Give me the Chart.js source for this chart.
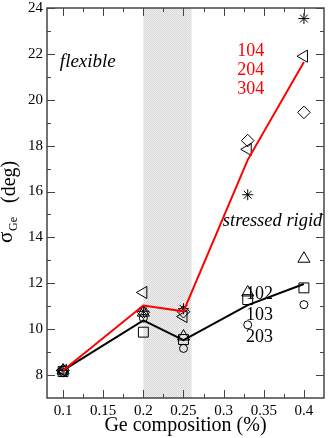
<!DOCTYPE html>
<html>
<head>
<meta charset="utf-8">
<script src="https://cdn.jsdelivr.net/npm/chart.js@4/dist/chart.umd.min.js"></script>
<style>
  html, body { margin: 0; padding: 0; background: #fff; }
  #wrap { width: 332px; height: 438px; position: relative; }
</style>
</head>
<body>
<div id="wrap"><canvas id="c"></canvas></div>
<script>
// Ge composition (x) for every series
const compositions = [0.1, 0.2, 0.25, 0.33, 0.4];

// averaged curves
const avgRed = [8.2, 11.03, 10.78, 17.38, 21.65];
const avgBlack = [8.2, 10.38, 9.52, 11.05, 11.97];

// individual runs (one array per marker)
const starVals = [8.2, 10.78, 10.89, 15.86, 23.54];
const leftTriVals = [8.2, 11.6, 10.55, 17.84, 21.9];
const diamondVals = [8.2, 10.74, 10.76, 18.22, 19.45];
const upTriVals = [8.2, 10.72, 9.68, 11.6, 13.07];
const squareVals = [8.15, 9.87, 9.55, 11.29, 11.8];
const circleVals = [8.1, 10.48, 9.16, 10.19, 11.07];

// axes
const xTicks = [0.1, 0.15, 0.2, 0.25, 0.3, 0.35, 0.4];
const xMinor = [0.125, 0.175, 0.225, 0.275, 0.325, 0.375];
const yTicks = [8, 10, 12, 14, 16, 18, 20, 22, 24];
const yMinor = [9, 11, 13, 15, 17, 19, 21, 23];

// shaded window (intermediate phase)
const bandRange = [0.2, 0.26];

const redLabels = ['104', '204', '304'];
const blackLabels = ['102', '103', '203'];

const SERIF = '"Liberation Serif", "DejaVu Serif", serif';
Chart.defaults.font.family = SERIF;

const pts = vals => vals.map((v, i) => ({ x: compositions[i], y: v }));

function markers(vals, style, radius, rotation) {
    return {
        data: pts(vals),
        showLine: false,
        pointStyle: style,
        pointRadius: radius,
        pointRotation: rotation || 0,
        pointBorderColor: '#000',
        pointBackgroundColor: 'rgba(0,0,0,0)',
        pointBorderWidth: 1
    };
}

// hatched grey band behind the data
const bandPlugin = {
    id: 'band',
    beforeDatasetsDraw(chart) {
        const { ctx, chartArea: a, scales: { x } } = chart;
        const p = document.createElement('canvas');
        p.width = 2; p.height = 2;
        const pc = p.getContext('2d');
        pc.fillStyle = '#f0f0f0'; pc.fillRect(0, 0, 2, 2);
        pc.fillStyle = '#d6d6d6'; pc.fillRect(0, 0, 1, 1); pc.fillRect(1, 1, 1, 1);
        const x0 = x.getPixelForValue(bandRange[0]);
        const x1 = x.getPixelForValue(bandRange[1]);
        ctx.save();
        ctx.fillStyle = ctx.createPattern(p, 'repeat');
        ctx.fillRect(x0, a.top, x1 - x0, a.bottom - a.top);
        ctx.restore();
    }
};

// box frame with inward ticks on all four sides
const framePlugin = {
    id: 'frame',
    afterDraw(chart) {
        const { ctx, chartArea: a, scales: { x, y } } = chart;
        ctx.save();
        ctx.strokeStyle = '#444';
        ctx.lineWidth = 1;
        ctx.beginPath();
        const tx = (v, len) => {
            const px = Math.round(x.getPixelForValue(v)) + 0.5;
            ctx.moveTo(px, a.bottom); ctx.lineTo(px, a.bottom - len);
            ctx.moveTo(px, a.top); ctx.lineTo(px, a.top + len);
        };
        const ty = (v, len) => {
            const py = Math.round(y.getPixelForValue(v)) + 0.5;
            ctx.moveTo(a.left, py); ctx.lineTo(a.left + len, py);
            ctx.moveTo(a.right, py); ctx.lineTo(a.right - len, py);
        };
        xTicks.forEach(v => tx(v, 8));
        xMinor.forEach(v => tx(v, 4));
        yTicks.forEach(v => ty(v, 8));
        yMinor.forEach(v => ty(v, 4));
        ctx.stroke();
        ctx.lineWidth = 1.5;
        ctx.strokeRect(a.left, a.top, a.right - a.left, a.bottom - a.top);
        ctx.restore();
    }
};

// text annotations and the y title with its subscript
const textPlugin = {
    id: 'texts',
    afterDraw(chart) {
        const { ctx, scales: { x, y } } = chart;
        const put = (txt, xv, yv, font, color) => {
            ctx.font = font;
            ctx.fillStyle = color;
            ctx.fillText(txt, x.getPixelForValue(xv), y.getPixelForValue(yv));
        };
        ctx.save();
        ctx.textAlign = 'left';
        ctx.textBaseline = 'alphabetic';
        put('flexible', 0.096, 21.45, 'italic 19px ' + SERIF, '#000');
        put('stressed rigid', 0.299, 14.5, 'italic 18.5px ' + SERIF, '#000');
        const redY = [21.9, 21.07, 20.25];
        redLabels.forEach((t, i) => put(t, 0.317, redY[i], '18px ' + SERIF, '#ff0000'));
        const blackY = [11.33, 10.38, 9.42];
        blackLabels.forEach((t, i) => put(t, 0.3277, blackY[i], '18px ' + SERIF, '#000'));

        // y title: sigma_Ge (deg)
        ctx.translate(0, 243);
        ctx.rotate(-Math.PI / 2);
        ctx.fillStyle = '#000';
        ctx.font = '21px ' + SERIF;
        ctx.fillText('σ', 0, 12);
        ctx.font = '12px ' + SERIF;
        ctx.fillText('Ge', 12, 17);
        ctx.font = '20px ' + SERIF;
        ctx.fillText('(deg)', 40, 15);
        ctx.restore();
    }
};

new Chart(document.getElementById('c'), {
    type: 'scatter',
    data: {
        datasets: [
            { data: pts(avgRed), showLine: true, borderColor: '#ff0000', borderWidth: 2, pointRadius: 0, fill: false },
            { data: pts(avgBlack), showLine: true, borderColor: '#000', borderWidth: 2, pointRadius: 0, fill: false },
            markers(starVals, 'star', 5.5),
            markers(leftTriVals, 'triangle', 7, -90),
            markers(diamondVals, 'rectRot', 6.3),
            markers(upTriVals, 'triangle', 7),
            markers(squareVals, 'rect', 7),
            markers(circleVals, 'circle', 4)
        ]
    },
    options: {
        responsive: true,
        maintainAspectRatio: false,
        animation: false,
        layout: { padding: { left: 0, right: 5, top: 7, bottom: 0 } },
        plugins: {
            legend: { display: false },
            tooltip: { enabled: false }
        },
        scales: {
            x: {
                type: 'linear',
                min: 0.08,
                max: 0.425,
                grid: { display: false, drawTicks: false },
                border: { display: false },
                afterBuildTicks: s => { s.ticks = xTicks.map(v => ({ value: v })); },
                afterFit: s => {
                    s.height = 40;
                    s.paddingLeft = 0; s.paddingRight = 0;
                },
                ticks: {
                    color: '#000',
                    padding: 4,
                    maxRotation: 0,
                    font: { size: 15 },
                    callback: v => String(v)
                },
                title: {
                    display: true,
                    text: 'Ge composition (%)',
                    color: '#000',
                    font: { size: 20 },
                    padding: { top: 0, bottom: 0 }
                }
            },
            y: {
                min: 7,
                max: 24,
                grid: { display: false, drawTicks: false },
                border: { display: false },
                afterBuildTicks: s => { s.ticks = yTicks.map(v => ({ value: v })); },
                afterFit: s => {
                    s.width = 47;
                    s.paddingTop = 0; s.paddingBottom = 0;
                },
                ticks: {
                    color: '#000',
                    padding: 4,
                    font: { size: 15 }
                }
            }
        }
    },
    plugins: [bandPlugin, framePlugin, textPlugin]
});
</script>
</body>
</html>
